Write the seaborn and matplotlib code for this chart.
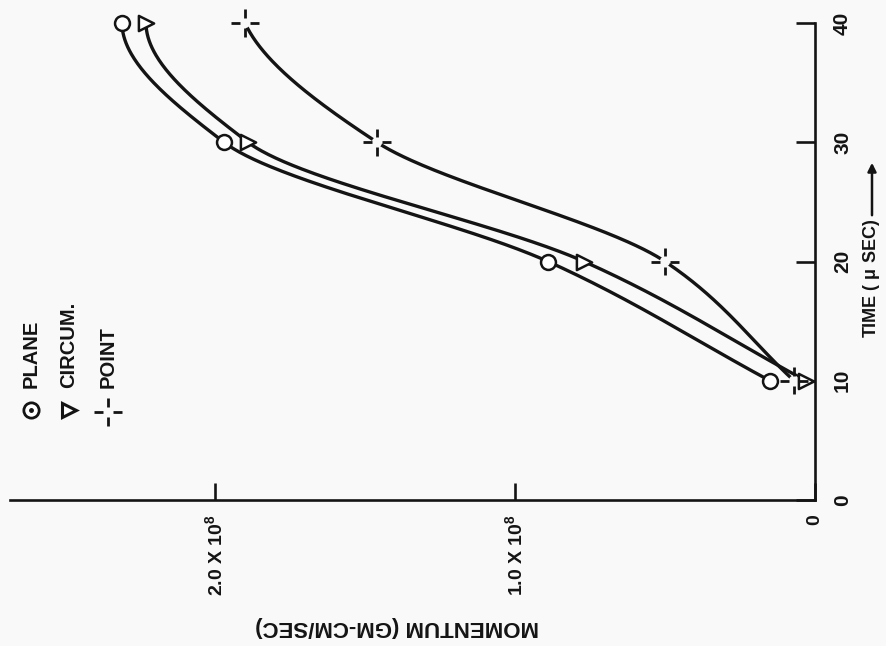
import numpy as np
import matplotlib
matplotlib.use("Agg")
import matplotlib.pyplot as plt
from matplotlib.path import Path
import seaborn as sns

# Momentum (units of 1e8 gm-cm/sec) versus time (microseconds)
time_us = [10, 20, 30, 40]
plane = [0.15, 0.89, 1.97, 2.31]
circum = [0.03, 0.77, 1.89, 2.23]
point = [0.07, 0.50, 1.46, 1.90]

time_ticks = [0, 10, 20, 30, 40]
mom_ticks = [0, 1, 2]
mom_tick_labels = ["0", "1.0 X 10$^8$", "2.0 X 10$^8$"]

series_names = ["PLANE", "CIRCUM.", "POINT"]

sns.set_theme(style="white")
plt.rcParams["font.family"] = ["Liberation Sans", "DejaVu Sans"]
plt.rcParams["font.weight"] = "bold"
plt.rcParams["mathtext.fontset"] = "custom"
plt.rcParams["mathtext.rm"] = "Liberation Sans:bold"
plt.rcParams["mathtext.it"] = "Liberation Sans:italic:bold"
plt.rcParams["mathtext.bf"] = "Liberation Sans:bold"
plt.rcParams["mathtext.default"] = "regular"

INK = "#141414"
BG = "#f9f9f9"
W, H = 887, 646


def fx(px):
    return px / W


def fy(py):
    return 1 - py / H


def smooth_curve(x, y, xs):
    """Piecewise cubic Hermite curve through the points (Fritsch-Carlson
    slopes inside, chord slope at the first point)."""
    x = np.asarray(x, float)
    y = np.asarray(y, float)
    h = np.diff(x)
    delta = np.diff(y) / h
    n = len(x)
    m = np.zeros(n)
    for k in range(1, n - 1):
        if delta[k - 1] * delta[k] > 0:
            w1 = 2 * h[k] + h[k - 1]
            w2 = h[k] + 2 * h[k - 1]
            m[k] = (w1 + w2) / (w1 / delta[k - 1] + w2 / delta[k])
    m[0] = delta[0]
    m[-1] = ((2 * h[-1] + h[-2]) * delta[-1] - h[-1] * delta[-2]) / (h[-1] + h[-2])
    if np.sign(m[-1]) != np.sign(delta[-1]):
        m[-1] = 0
    idx = np.clip(np.searchsorted(x, xs) - 1, 0, n - 2)
    t = (xs - x[idx]) / h[idx]
    h00 = 2 * t ** 3 - 3 * t ** 2 + 1
    h10 = t ** 3 - 2 * t ** 2 + t
    h01 = -2 * t ** 3 + 3 * t ** 2
    h11 = t ** 3 - t ** 2
    return (h00 * y[idx] + h10 * h[idx] * m[idx]
            + h01 * y[idx + 1] + h11 * h[idx] * m[idx + 1])


# broken cross: four dashes around an empty centre
g = 0.38
cross = Path(
    [(-1, 0), (-g, 0), (g, 0), (1, 0), (0, -1), (0, -g), (0, g), (0, 1)],
    [Path.MOVETO, Path.LINETO] * 4,
)

fig = plt.figure(figsize=(W / 100, H / 100), dpi=100, facecolor=BG)
ax = fig.add_axes([fx(10), fy(500), fx(815) - fx(10), fy(23) - fy(500)])
ax.set_facecolor(BG)

# The graph is laid out turned a quarter turn: time runs upward on the
# right-hand axis, momentum grows toward the left along the bottom axis.
ax.set_xlim((815 - 10) / 300, 0)
ax.set_ylim(0, 40)

tt = np.linspace(10, 40, 300)
for vals in (plane, circum, point):
    sns.lineplot(x=smooth_curve(time_us, vals, tt), y=tt, sort=False,
                 estimator=None, color=INK, linewidth=2.4, ax=ax,
                 zorder=2, clip_on=False)

sns.scatterplot(x=plane, y=time_us, marker="o", s=115, color="white",
                edgecolor=INK, linewidth=1.8, ax=ax, zorder=4, clip_on=False)
sns.scatterplot(x=circum, y=time_us, marker=">", s=120, color="white",
                edgecolor=INK, linewidth=1.8, ax=ax, zorder=4, clip_on=False)
sns.scatterplot(x=point, y=time_us, marker="o", s=55, color=BG,
                edgecolor="none", linewidth=0, ax=ax, zorder=3, clip_on=False)
sns.scatterplot(x=point, y=time_us, marker=cross, s=380, facecolor="none",
                edgecolor=INK, linewidth=2.0, ax=ax, zorder=4, clip_on=False)

for side in ("top", "left"):
    ax.spines[side].set_visible(False)
for side in ("bottom", "right"):
    ax.spines[side].set_color(INK)
    ax.spines[side].set_linewidth(1.9)

ax.set_xticks(mom_ticks)
ax.set_xticklabels(mom_tick_labels)
ax.tick_params(axis="x", direction="in", length=12, width=1.9, color=INK,
               labelsize=14, labelcolor=INK, labelrotation=90, pad=10,
               bottom=True)
ax.yaxis.tick_right()
ax.set_yticks(time_ticks)
ax.set_yticklabels([str(t) for t in time_ticks])
ax.tick_params(axis="y", direction="in", length=14, width=1.9, color=INK,
               labelsize=15, labelcolor=INK, labelrotation=90, pad=13,
               right=True, left=False)
for lab in ax.get_yticklabels():
    lab.set_va("center")
ax.grid(False)

fig.text(fx(872), fy(278), "TIME ( $\\mu$ SEC)", rotation=90, ha="center",
         va="center", fontsize=13, fontweight="bold", color=INK)
fig.add_artist(matplotlib.patches.FancyArrowPatch(
    (fx(872), fy(218)), (fx(872), fy(160)), transform=fig.transFigure,
    arrowstyle="-|>,head_length=5,head_width=2.5", color=INK, linewidth=1.8))
fig.text(fx(397), fy(627), "MOMENTUM (GM-CM/SEC)", rotation=180,
         ha="center", va="center", fontsize=16, fontweight="bold", color=INK)

# key
key_x = [31, 69, 108]
key_y = 410
fig.add_artist(matplotlib.lines.Line2D([fx(key_x[0])], [fy(key_y)], marker="o",
               markersize=11, markerfacecolor="white", markeredgecolor=INK,
               markeredgewidth=2.0, transform=fig.transFigure))
fig.add_artist(matplotlib.lines.Line2D([fx(key_x[0])], [fy(key_y)], marker="o",
               markersize=2.5, color=INK, transform=fig.transFigure))
fig.add_artist(matplotlib.lines.Line2D([fx(key_x[1])], [fy(key_y)], marker=">",
               markersize=10, markerfacecolor="white", markeredgecolor=INK,
               markeredgewidth=2.2, transform=fig.transFigure))
fig.add_artist(matplotlib.lines.Line2D([fx(key_x[2])], [fy(key_y + 2)],
               marker=cross, markersize=20, markerfacecolor="none",
               markeredgecolor=INK, markeredgewidth=2.0,
               transform=fig.transFigure))
for xk, name in zip(key_x, series_names):
    fig.text(fx(xk), fy(388), name, rotation=90, ha="center", va="bottom",
             fontsize=14.5, fontweight="bold", color=INK)

fig.savefig("out.png", dpi=100, facecolor=BG)
